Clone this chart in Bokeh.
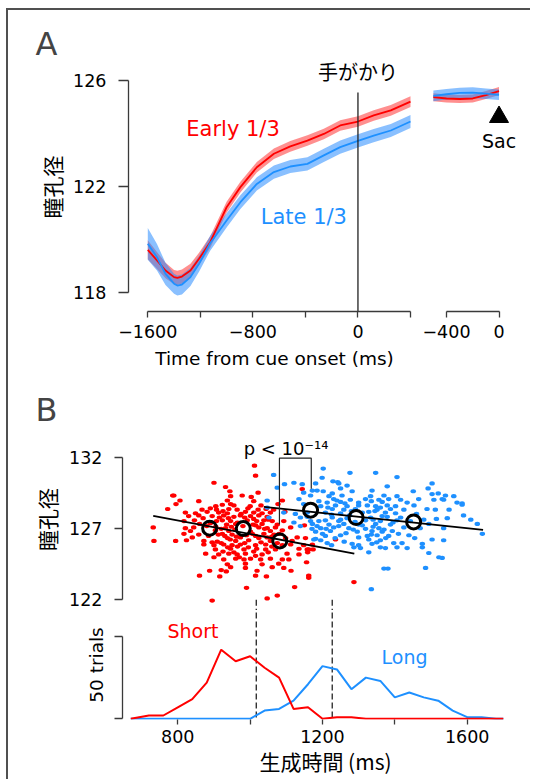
from bokeh.plotting import figure
from bokeh.layouts import column, row
from bokeh.models import FixedTicker, Range1d
from bokeh.core.properties import value
from bokeh.embed import file_html
from bokeh.resources import INLINE

RED = "#ff0000"
BLUE = "#1e90ff"
AX = "#3a3a3a"
LAT = "DejaVu Sans"
CJK = "Noto Sans CJK JP"

# ---------------- Panel A data (pupil, cue aligned) ----------------
a_time = [-1600, -1530, -1465, -1400, -1375, -1340, -1275, -1210, -1125, -1000, -895,
          -770, -640, -515, -385, -260, -135, 0, 120, 250, 400]
early_mean = [119.60, 119.20, 118.82, 118.57, 118.54, 118.59, 118.82, 119.26, 119.89, 121.21, 121.97,
              122.72, 123.23, 123.51, 123.73, 123.98, 124.30, 124.45, 124.68, 124.87, 125.20]
early_se = [0.36, 0.32, 0.29, 0.27, 0.27, 0.27, 0.25, 0.23, 0.22, 0.21, 0.2,
            0.2, 0.2, 0.2, 0.2, 0.2, 0.2, 0.2, 0.2, 0.2, 0.2]
late_mean = [119.83, 119.32, 118.69, 118.32, 118.25, 118.29, 118.57, 119.07, 119.85, 120.71, 121.40,
             122.09, 122.54, 122.75, 122.85, 123.17, 123.48, 123.72, 123.92, 124.11, 124.45]
late_se = [0.6, 0.5, 0.42, 0.38, 0.38, 0.38, 0.34, 0.3, 0.28, 0.27, 0.26,
           0.25, 0.25, 0.25, 0.25, 0.25, 0.25, 0.25, 0.25, 0.25, 0.25]

# saccade aligned
sac_time = [-500, -400, -300, -200, -100, 0]
early_sac = [125.37, 125.32, 125.30, 125.32, 125.45, 125.60]
early_sac_se = [0.15, 0.15, 0.15, 0.15, 0.15, 0.15]
late_sac = [125.42, 125.48, 125.53, 125.54, 125.50, 125.46]
late_sac_se = [0.2, 0.2, 0.2, 0.2, 0.2, 0.2]

cue_time = 0
cue_line = [125.55, 117.0]
a_xticks = [-1600, -1200, -800, -400, 0, 400]
a_xlabels = {-1600: "\u22121600", -1200: "", -800: "\u2212800", -400: "", 0: "0", 400: ""}
a_yticks = [118, 122, 126]
sac_xticks = [-400, 0]
sac_xlabels = {-400: "\u2212400", 0: "0"}

# ---------------- Panel B data ----------------
short_trials = [
    (1012, 131.4), (1015, 130.7), (900, 130.2), (932, 129.9), (944, 129.6), (1022, 129.5),
    (786, 129.3), (946, 129.25), (978, 129.3), (1003, 129.2), (789, 129.3),
    (806, 128.95), (858, 128.9), (937, 128.95), (1010, 128.9), (1089, 128.95),
    (795, 128.7), (923, 128.65), (946, 128.7), (1077, 128.7),
    (772, 128.35), (867, 128.3), (890, 128.4), (907, 128.3), (941, 128.35), (964, 128.3),
    (994, 128.4), (1022, 128.3), (1044, 128.35), (1065, 128.3),
    (821, 128.1), (849, 128.05), (881, 128.15), (913, 128.1), (937, 128.05), (987, 128.15),
    (1010, 128.1), (1033, 128.05), (1056, 128.1), (1096, 128.15),
    (830, 127.85), (858, 127.9), (895, 127.85), (927, 127.9), (955, 127.8), (973, 127.9),
    (1001, 127.85), (1024, 127.9), (1047, 127.8),
    (817, 127.5), (846, 127.55), (907, 127.5), (923, 127.55), (946, 127.5), (992, 127.55),
    (1018, 127.5), (1038, 127.55), (1061, 127.5), (1093, 127.5),
    (860, 127.3), (935, 127.25), (960, 127.3), (1008, 127.25), (1033, 127.3), (1075, 127.25),
    (732, 127.05), (821, 127.0), (844, 127.05), (932, 127.0), (948, 127.1), (1024, 127.05),
    (1047, 127.0), (1112, 127.05),
    (835, 126.8), (904, 126.85), (941, 126.8), (1001, 126.75), (1056, 126.8), (1089, 126.85),
    (817, 126.6), (858, 126.55), (923, 126.6), (950, 126.55), (1006, 126.6), (1038, 126.6), (1066, 126.55),
    (840, 126.35), (937, 126.3), (973, 126.35), (1024, 126.3), (1047, 126.35), (1098, 126.3), (1130, 126.35),
    (734, 126.1), (794, 126.1), (824, 126.15), (872, 126.1), (909, 126.05), (960, 126.1),
    (996, 126.15), (1056, 126.1), (1116, 126.1),
    (872, 125.85), (900, 125.8), (927, 125.85), (950, 125.8), (973, 125.85), (1015, 125.8),
    (1043, 125.85), (1089, 125.8), (1112, 125.85), (1148, 125.8), (1172, 125.85),
    (904, 125.5), (946, 125.55), (983, 125.5), (1018, 125.55), (1043, 125.5), (1070, 125.5),
    (1135, 125.55), (1162, 125.5),
    (877, 125.2), (913, 125.15), (941, 125.2), (964, 125.15), (987, 125.2), (1033, 125.15),
    (1102, 125.2), (1135, 125.15),
    (927, 124.8), (960, 124.85), (983, 124.8), (1001, 124.85), (1029, 124.8), (1056, 124.85),
    (1089, 124.8), (1107, 124.8),
    (937, 124.45), (987, 124.5), (1033, 124.45), (1079, 124.5),
    (946, 124.25), (987, 124.2), (1061, 124.25), (1093, 124.2),
    (888, 124.0), (920, 124.05), (934, 123.95), (1019, 124.0), (1113, 124.0),
    (860, 123.65), (916, 123.6), (1015, 123.65), (1045, 123.6), (1162, 123.65),
    (990, 122.8), (1123, 122.85), (1075, 122.25), (1047, 122.05), (895, 121.9),
    (1144, 129.75), (1150, 127.2), (1153, 126.3), (1236, 126.2), (1158, 125.5), (1174, 125.5),
    (1159, 125.3), (1156, 124.6), (1162, 123.5), (1287, 123.2),
    (905, 128.55), (925, 128.2), (955, 128.6), (975, 128.0), (1000, 128.55), (1030, 128.6),
    (870, 127.7), (890, 127.35), (915, 127.75), (940, 127.7), (965, 127.4), (985, 127.75),
    (1010, 127.65), (1050, 127.6), (880, 127.15), (905, 127.1), (920, 126.95), (958, 126.9),
    (980, 127.15), (1015, 127.2), (1040, 126.95), (1070, 127.05), (885, 126.45), (912, 126.55),
    (930, 126.45), (962, 126.4), (990, 126.5), (1015, 126.45), (1060, 126.4), (1080, 126.6),
    (895, 126.0), (920, 125.95), (945, 126.2), (985, 125.95), (1030, 126.0), (1075, 125.95),
    (938, 125.65), (965, 125.7), (995, 125.65), (1060, 125.7), (925, 125.35), (955, 125.3),
    (1010, 125.35), (1050, 125.3), (900, 124.95), (970, 124.95), (1015, 125.05),
]
long_trials = [
    (1202, 131.2), (1276, 130.9), (1347, 130.9), (1199, 130.55), (1406, 130.6), (1229, 130.3),
    (1242, 130.25), (1245, 130.15), (1503, 130.15), (1144, 130.1), (1181, 130.15), (1268, 130.0),
    (1379, 129.95), (1250, 129.8), (1492, 129.8), (1185, 129.65), (1202, 129.6), (1282, 129.6),
    (1337, 129.65), (1451, 129.6), (1520, 129.45), (1227, 129.45), (1503, 129.4),
    (1167, 129.3), (1218, 129.25), (1254, 129.3), (1333, 129.25), (1370, 129.3), (1406, 129.25),
    (1540, 129.3), (1563, 129.25),
    (1231, 129.05), (1277, 129.0), (1319, 129.05), (1356, 129.0), (1383, 129.05), (1416, 129.0),
    (1466, 129.05), (1508, 129.0), (1531, 129.05),
    (1213, 128.8), (1250, 128.85), (1300, 128.8), (1365, 128.85), (1434, 128.8), (1572, 128.8),
    (1586, 128.75),
    (1195, 128.55), (1236, 128.6), (1268, 128.55), (1324, 128.6), (1347, 128.55), (1379, 128.6),
    (1402, 128.55), (1453, 128.6),
    (1227, 128.35), (1259, 128.3), (1291, 128.35), (1351, 128.3), (1388, 128.35), (1425, 128.3),
    (1489, 128.35), (1512, 128.3),
    (1208, 128.1), (1250, 128.05), (1310, 128.1), (1328, 128.15), (1374, 128.1), (1402, 128.05),
    (1139, 127.75), (1158, 127.8), (1227, 127.75), (1268, 127.7), (1333, 127.75), (1379, 127.8),
    (1416, 127.75), (1545, 127.7),
    (1190, 127.5), (1208, 127.55), (1245, 127.5), (1319, 127.55), (1360, 127.5), (1406, 127.55),
    (1443, 127.5),
    (1172, 127.3), (1218, 127.25), (1259, 127.3), (1300, 127.25), (1347, 127.3), (1388, 127.25),
    (1494, 127.3), (1628, 127.3),
    (1195, 127.0), (1231, 127.05), (1273, 127.0), (1319, 126.95), (1356, 127.0), (1425, 127.05),
    (1535, 127.0),
    (1181, 126.75), (1222, 126.8), (1296, 126.75), (1337, 126.8), (1365, 126.75), (1393, 126.8),
    (1642, 126.6),
    (1208, 126.45), (1250, 126.5), (1324, 126.45), (1351, 126.5), (1383, 126.45), (1439, 126.5),
    (1176, 126.2), (1195, 126.15), (1328, 126.2), (1360, 126.15), (1503, 126.2), (1535, 126.15),
    (1282, 125.9), (1213, 125.95), (1337, 125.9), (1397, 125.95), (1476, 125.9),
    (1287, 125.65), (1305, 125.6), (1360, 125.65), (1374, 125.6), (1406, 125.65), (1434, 125.6),
    (1476, 125.65),
    (1328, 125.3), (1494, 125.25), (1522, 124.95), (1531, 124.9),
    (1370, 124.15), (1381, 124.15), (1485, 124.2), (1335, 122.7),
    (1065, 130.75), (1095, 130.1), (1121, 130.2), (1075, 129.85), (1047, 128.95), (1148, 129.5),
    (1172, 129.65), (1135, 129.05), (1148, 128.7), (1158, 128.1), (1125, 128.0), (1167, 127.5),
    (1139, 127.15), (1171, 126.95), (1181, 126.25), (1121, 127.4), (1093, 128.1), (1052, 127.75),
    (1047, 128.45), (1586, 128.65), (1535, 129.0),
    (1190, 128.9), (1215, 128.45), (1240, 128.95), (1262, 128.75), (1280, 128.2), (1300, 128.6),
    (1335, 128.9), (1345, 128.2), (1360, 128.45), (1225, 127.95), (1250, 127.6), (1275, 127.9),
    (1290, 127.45), (1340, 127.6), (1365, 127.85), (1395, 127.4), (1185, 127.15), (1210, 126.95),
    (1245, 127.15), (1285, 126.9), (1310, 127.2), (1340, 127.1), (1370, 126.9), (1200, 126.6),
    (1235, 126.3), (1265, 126.65), (1300, 126.35), (1335, 126.55), (1375, 126.3), (1410, 126.6),
    (1225, 125.8), (1260, 126.05), (1300, 125.8), (1350, 126.0), (1420, 125.95), (1455, 126.3),
    (1470, 127.0), (1460, 128.0), (1480, 127.6), (1515, 127.65), (1550, 128.3), (1590, 127.9),
    (1610, 127.6),
]
short_rt = [t for t, v in short_trials]
short_pupil = [v for t, v in short_trials]
long_rt = [t for t, v in long_trials]
long_pupil = [v for t, v in long_trials]

short_mean_rt = [888, 981, 1082]
short_mean_pupil = [127.0, 126.97, 126.1]
long_mean_rt = [1167, 1293, 1452]
long_mean_pupil = [128.27, 127.75, 127.44]
short_fit_rt = [732, 1288]
short_fit_pupil = [127.87, 125.21]
long_fit_rt = [1038, 1644]
long_fit_pupil = [128.5, 126.88]

bracket_rt = [1081, 1081, 1169, 1169]
bracket_pupil = [127.28, 131.93, 131.93, 129.77]

median_rt = [1017, 1227]

hist_time = [670, 720, 760, 800, 840, 880, 920, 960, 1000, 1040, 1080, 1120, 1160, 1200,
             1240, 1280, 1320, 1360, 1400, 1440, 1480, 1520, 1560, 1600, 1640, 1680, 1700]
short_counts = [0, 2, 2, 7, 12, 22, 42, 35, 38, 31, 25, 6, 7, 0,
                1, 1, 0, 0, 0, 0, 0, 0, 0, 0, 0, 0, 0]
long_counts = [0, 0, 0, 0, 0, 0, 0, 0, 0, 5, 6, 11, 21, 32,
               30, 18, 25, 23, 13, 16, 13, 11, 5, 1, 1, 0, 0]
b_yticks = [122, 127, 132]
h_yticks = [0, 50]
h_xticks = [800, 1000, 1200, 1400, 1600]
h_xlabels = {800: "800", 1000: "", 1200: "1200", 1400: "", 1600: "1600"}


def clean(p):
    p.xgrid.visible = False
    p.ygrid.visible = False
    p.outline_line_color = None
    p.background_fill_color = "white"
    p.border_fill_color = "white"


def style_axis(ax, ticks, labels, bounds, tick_out, standoff, font_size="17.5px"):
    ax.ticker = FixedTicker(ticks=ticks)
    if labels is not None:
        ax.major_label_overrides = labels
    ax.bounds = bounds
    ax.major_tick_out = tick_out
    ax.major_tick_in = 0
    ax.minor_tick_line_color = None
    ax.axis_line_color = AX
    ax.axis_line_width = 1.3
    ax.major_tick_line_color = AX
    ax.major_tick_line_width = 1.3
    ax.major_label_text_font = LAT
    ax.major_label_text_font_size = font_size
    ax.major_label_text_color = "black"
    ax.major_label_standoff = standoff
    ax.axis_label_text_font_style = "normal"
    ax.axis_label_text_color = "black"


def band(p, x, m, se, color, alpha):
    lo = [a - b for a, b in zip(m, se)]
    hi = [a + b for a, b in zip(m, se)]
    p.varea(x=x, y1=lo, y2=hi, fill_color=color, fill_alpha=alpha)


# ---------------- Panel A ----------------
yA = Range1d(117.27, 126.68)
pA = figure(width=412, height=375, x_range=Range1d(-1746.9, 476.2), y_range=yA,
            min_border_left=120, min_border_right=0, min_border_top=52, min_border_bottom=74,
            output_backend="svg", toolbar_location=None, title="A")
clean(pA)
pA.title.text_font = LAT
pA.title.text_font_size = "32px"
pA.title.text_font_style = "normal"
pA.title.align = "left"
pA.title.offset = -93
pA.title.standoff = 0

style_axis(pA.xaxis[0], a_xticks, a_xlabels, (-1600, 400), 6, 7)
pA.xaxis[0].axis_label = "Time from cue onset (ms)"
pA.xaxis[0].axis_label_text_font = LAT
pA.xaxis[0].axis_label_text_font_size = "18.5px"
pA.xaxis[0].axis_label_standoff = 7
style_axis(pA.yaxis[0], a_yticks, None, (118, 126), 10, 12)
pA.yaxis[0].axis_label = "瞳孔径"
pA.yaxis[0].axis_label_text_font = CJK
pA.yaxis[0].axis_label_text_font_size = "21px"
pA.yaxis[0].axis_label_standoff = 3

band(pA, a_time, early_mean, early_se, "#ff3333", 0.55)
band(pA, a_time, late_mean, late_se, "#2a8cff", 0.55)
pA.line(a_time, early_mean, line_color=RED, line_width=1.8)
pA.line(a_time, late_mean, line_color=BLUE, line_width=1.8)
pA.line([cue_time, cue_time], cue_line, line_color="#222222", line_width=1.3)
pA.text(x=[cue_time], y=[126.34], text=["手がかり"], text_font=value(CJK), text_font_size="20px",
        text_align="center", text_baseline="middle", text_color="black")
pA.text(x=[-951], y=[124.15], text=["Early 1/3"], text_font=value(LAT), text_font_size="21px",
        text_align="center", text_baseline="middle", text_color=RED)
pA.text(x=[-412], y=[120.83], text=["Late 1/3"], text_font=value(LAT), text_font_size="21px",
        text_align="center", text_baseline="middle", text_color=BLUE)

pS = figure(width=110, height=375, x_range=Range1d(-597.9, 239.6), y_range=yA,
            min_border_left=0, min_border_right=0, min_border_top=52, min_border_bottom=74,
            output_backend="svg", toolbar_location=None, y_axis_location=None, title=None)
clean(pS)
style_axis(pS.xaxis[0], sac_xticks, sac_xlabels, (-400, 0), 6, 7)
band(pS, sac_time, early_sac, early_sac_se, "#ff3333", 0.55)
band(pS, sac_time, late_sac, late_sac_se, "#2a8cff", 0.55)
pS.line(sac_time, early_sac, line_color=RED, line_width=1.8)
pS.line(sac_time, late_sac, line_color=BLUE, line_width=1.8)
pS.scatter(x=[0], y=[124.62], marker="triangle", size=19, fill_color="black", line_color="black")
pS.text(x=[0], y=[123.73], text=["Sac"], text_font=value(LAT), text_font_size="19px",
        text_align="center", text_baseline="middle", text_color="black")

# ---------------- Panel B scatter ----------------
xB = Range1d(647.1, 1769.6)
pB = figure(width=522, height=225, x_range=xB, y_range=Range1d(121.2, 134.02),
            min_border_left=114, min_border_right=2, min_border_top=43, min_border_bottom=0,
            output_backend="svg", toolbar_location=None, x_axis_location=None, title="B")
clean(pB)
pB.title.text_font = LAT
pB.title.text_font_size = "32px"
pB.title.text_font_style = "normal"
pB.title.align = "left"
pB.title.offset = -87
pB.title.standoff = 0
style_axis(pB.yaxis[0], b_yticks, None, (122, 132), 8, 12)
pB.yaxis[0].axis_label = "瞳孔径"
pB.yaxis[0].axis_label_text_font = CJK
pB.yaxis[0].axis_label_text_font_size = "21px"
pB.yaxis[0].axis_label_standoff = 4

pB.ellipse(x=short_rt, y=short_pupil, width=5.5, height=4.2, width_units="screen", height_units="screen",
           fill_color=RED, line_color=None)
pB.ellipse(x=long_rt, y=long_pupil, width=5.5, height=4.2, width_units="screen", height_units="screen",
           fill_color=BLUE, line_color=None)
pB.line(short_fit_rt, short_fit_pupil, line_color="black", line_width=1.8)
pB.line(long_fit_rt, long_fit_pupil, line_color="black", line_width=1.8)
pB.scatter(short_mean_rt, short_mean_pupil, marker="circle", size=14, fill_color=None,
           line_color="black", line_width=3)
pB.scatter(long_mean_rt, long_mean_pupil, marker="circle", size=14, fill_color=None,
           line_color="black", line_width=3)
pB.line(bracket_rt, bracket_pupil, line_color="#222222", line_width=1.2)
pB.text(x=[982], y=[132.63], text=["p < 10\u207b\u00b9\u2074"], text_font=value(LAT), text_font_size="18px",
        text_align="left", text_baseline="alphabetic", text_color="black")
pB.segment(x0=median_rt, y0=[121.95, 121.95], x1=median_rt, y1=[121.0, 121.0],
           line_color="#333333", line_width=1.4, line_dash="6 3")

# ---------------- Panel B histogram ----------------
pH = figure(width=522, height=169, x_range=xB, y_range=Range1d(-0.43, 65.79),
            min_border_left=114, min_border_right=2, min_border_top=0, min_border_bottom=60,
            output_backend="svg", toolbar_location=None, title=None)
clean(pH)
style_axis(pH.xaxis[0], h_xticks, h_xlabels, (670, 1700), 5, 5)
pH.xaxis[0].axis_line_color = None
pH.xaxis[0].axis_label = "生成時間 (ms)"
pH.xaxis[0].axis_label_text_font = CJK
pH.xaxis[0].axis_label_text_font_size = "21px"
pH.xaxis[0].axis_label_standoff = 0
style_axis(pH.yaxis[0], h_yticks, {0: "", 50: ""}, (0, 50), 8, 0)
pH.yaxis[0].axis_label = "50 trials"
pH.yaxis[0].axis_label_text_font = LAT
pH.yaxis[0].axis_label_text_font_size = "18.5px"
pH.yaxis[0].axis_label_standoff = 8

pH.segment(x0=median_rt, y0=[70, 70], x1=median_rt, y1=[0, 0],
           line_color="#333333", line_width=1.4, line_dash="6 3")
pH.line(hist_time, long_counts, line_color=BLUE, line_width=2)
pH.line(hist_time, short_counts, line_color=RED, line_width=2)
pH.text(x=[842], y=[53.2], text=["Short"], text_font=value(LAT), text_font_size="19px",
        text_align="center", text_baseline="middle", text_color=RED)
pH.text(x=[1427], y=[37.5], text=["Long"], text_font=value(LAT), text_font_size="19px",
        text_align="center", text_baseline="middle", text_color=BLUE)

layout = column(row(pA, pS), pB, pH,
                styles={"margin-left": "6px", "margin-top": "8px",
                        "border-left": "2px solid #505050", "border-top": "2px solid #505050"})

open("out.html", "w").write(file_html(layout, INLINE))
